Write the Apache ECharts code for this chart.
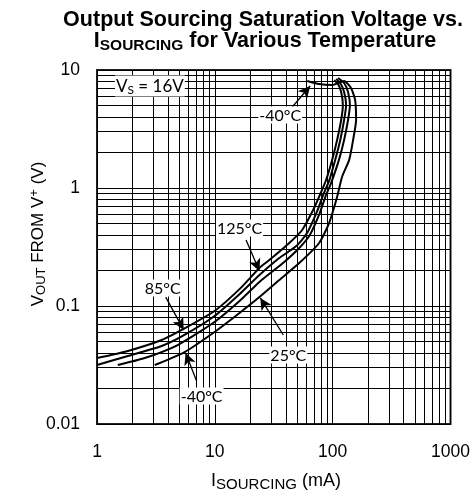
<!DOCTYPE html>
<html><head><meta charset="utf-8">
<script src="https://cdn.jsdelivr.net/npm/echarts@6/dist/echarts.min.js"></script>
<style>html,body{margin:0;padding:0;background:#fff}#c{width:473px;height:496px}</style>
</head><body><div id="c"></div>
<script>
// Axis ticks
const xTicks = [1, 10, 100, 1000];
const yTicks = [0.01, 0.1, 1, 10];
const xMinor = [2,3,4,5,6,7,8,9,20,30,40,50,60,70,80,90,200,300,400,500,600,700,800,900];
const yMinor = [0.02,0.03,0.04,0.05,0.06,0.07,0.08,0.09,0.2,0.3,0.4,0.5,0.6,0.7,0.8,0.9,2,3,4,5,6,7,8,9];

// Curves: [I_SOURCING (mA), V_OUT from V+ (V)]
const curve125 = [[1.0,0.0362],[1.83,0.0416],[3.54,0.0515],[5.23,0.0627],[9.94,0.0908],[16.2,0.139],[23.9,0.210],[29.0,0.245],[42.8,0.342],[55.1,0.441],[69.6,0.677],[79.8,0.925],[87.9,1.17],[98.9,1.73],[109,2.55],[118,3.77],[122,5.05],[118,6.51],[111,7.6],[103,8.2]];
const curve85 = [[1.0,0.0316],[1.83,0.0377],[3.54,0.0458],[5.33,0.0557],[9.94,0.0822],[16.2,0.126],[23.9,0.183],[35.2,0.255],[49.1,0.322],[61.0,0.42],[74.0,0.64],[84.0,0.90],[93.2,1.15],[105,1.73],[116,2.55],[125,3.77],[130,5.05],[125,6.51],[116,7.76],[107,8.39]];
const curve25 = [[1.5,0.0316],[2.54,0.0362],[4.84,0.0467],[9.94,0.0731],[16.2,0.110],[23.9,0.160],[38.8,0.236],[52.0,0.310],[64.0,0.40],[77.0,0.60],[87.0,0.85],[96.9,1.10],[113,1.73],[125,2.55],[135,3.77],[140,5.05],[135,6.51],[125,7.76],[111,8.55]];
const curveM40 = [[3.09,0.0316],[5.54,0.0407],[9.94,0.0602],[16.2,0.0873],[23.9,0.119],[35.2,0.166],[52.0,0.231],[76.7,0.342],[93.2,0.505],[109,0.839],[120,1.24],[138,1.73],[149,2.55],[158,3.77],[155,5.57],[143,7.04],[125,8.07],[98.9,7.46],[76.7,7.6],[60.8,8.07]];

// Annotations: label text, label position, arrow start, arrow end (data coords)
const labels = [
  {text:'{v|V}{s|S}{v| = 16V}', at:[2.81,7.32]},
  {text:'-40°C', at:[35.9,4.16], from:[45.4,4.86], to:[64.4,7.32]},
  {text:'125°C', at:[16.2,0.458], from:[18.4,0.362], to:[23.9,0.198]},
  {text:'85°C', at:[3.61,0.142], from:[3.83,0.119], to:[5.44,0.0627]},
  {text:'25°C', at:[42.0,0.0385], from:[38.1,0.0568], to:[24.3,0.117]},
  {text:'-40°C', at:[7.72,0.0173], from:[7.0,0.0231], to:[5.65,0.040]}
];

const chart = echarts.init(document.getElementById('c'));
const lineStyle = {color:'#000', width:2};
const curveSeries = [curve125, curve85, curve25, curveM40].map(d => ({
  type:'line', data:d, showSymbol:false, symbol:'none', smooth:0.2, lineStyle, z:5, silent:true
}));

const gridLines = [].concat(
  xMinor.map(v => ({xAxis:v})),
  yMinor.map(v => ({yAxis:v}))
);
const fmt = v => String(+(+v).toPrecision(3));
const AF = '"Liberation Sans", Arial, sans-serif';

chart.setOption({
  animation:false,
  backgroundColor:'#fff',
  grid:{left:97, right:21, top:70, bottom:72, show:true, borderColor:'#222', borderWidth:2},
  xAxis:{type:'log', min:xTicks[0], max:xTicks[xTicks.length-1], logBase:10,
    axisLine:{show:false}, axisTick:{show:false},
    splitLine:{show:true, lineStyle:{color:'#000', width:1}},
    axisLabel:{fontFamily:AF, fontSize:17.5, color:'#000', margin:19, formatter: fmt}},
  yAxis:{type:'log', min:yTicks[0], max:yTicks[yTicks.length-1], logBase:10,
    axisLine:{show:false}, axisTick:{show:false},
    splitLine:{show:true, lineStyle:{color:'#000', width:1}},
    axisLabel:{fontFamily:AF, fontSize:17.5, color:'#000', margin:17, formatter: fmt}},
  series:[
    {type:'line', data:[], silent:true, z:1,
     markLine:{silent:true, symbol:'none', animation:false, label:{show:false},
       lineStyle:{color:'#000', width:1, type:'solid'}, data:gridLines}},
    ...curveSeries,
    {type:'line', data:[], silent:true, z:6,
     markLine:{silent:true, symbol:['none','arrow'], symbolSize:[9,12], animation:false, label:{show:false},
       lineStyle:{color:'#000', width:1.3, type:'solid'},
       data: labels.filter(l => l.from).map(l => [{coord:l.from},{coord:l.to}])},
     markPoint:{silent:true, symbol:'rect', symbolSize:0, animation:false,
       label:{show:true, position:'inside', color:'#000', fontFamily:'Lato', fontSize:16,
         backgroundColor:'#fff', padding:[1,1,0,1],
         formatter: p => p.data.name,
         rich:{v:{fontFamily:'Lato', fontSize:17, color:'#000'}, s:{fontFamily:'Lato', fontSize:12, color:'#000', padding:[8,0,0,0]}}},
       data: labels.map(l => ({coord:l.at, name:l.text}))}}
  ],
  graphic:[
    {type:'text', x:263, y:20, style:{text:'Output Sourcing Saturation Voltage vs.', font:'bold 21.5px ' + AF, fill:'#000', align:'center', verticalAlign:'middle'}},
    {type:'text', x:265, y:41, style:{text:'{a|I}{s|SOURCING}{a| for Various Temperature}', fill:'#000', align:'center', verticalAlign:'middle',
      rich:{a:{font:'bold 21.5px ' + AF, fill:'#000'}, s:{font:'bold 15.5px ' + AF, fill:'#000', padding:[9,0,0,0]}}}},
    {type:'text', x:276, y:481, style:{text:'{a|I}{s|SOURCING}{a| (mA)}', fill:'#000', align:'center', verticalAlign:'middle',
      rich:{a:{font:'18px ' + AF, fill:'#000'}, s:{font:'15px ' + AF, fill:'#000', padding:[8,0,0,0]}}}},
    {type:'text', x:38, y:234, rotation:Math.PI/2, style:{text:'{a|V}{s|OUT}{a| FROM V}{p|+}{a| (V)}', fill:'#000', align:'center', verticalAlign:'middle',
      rich:{a:{font:'17px ' + AF, fill:'#000'}, s:{font:'13px ' + AF, fill:'#000', padding:[7,0,0,0]}, p:{font:'13px ' + AF, fill:'#000', padding:[0,0,8,0]}}}}
  ]
});
</script></body></html>
